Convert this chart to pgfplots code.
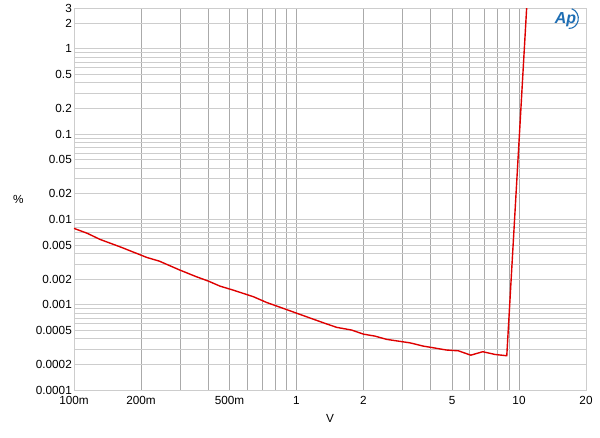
\documentclass[border=0pt]{standalone}
\usepackage{fontspec}
\setmainfont{Liberation Sans}
\usepackage{pgfplots}
\pgfplotsset{compat=1.18}
\definecolor{apred}{RGB}{222,0,0}
\definecolor{apblue}{RGB}{30,110,180}
\definecolor{gridv}{RGB}{170,170,170}
\definecolor{gridh}{RGB}{205,205,205}
\begin{document}
\begin{tikzpicture}
\useasboundingbox (-74bp,-48bp) rectangle (526bp,390bp);
\begin{axis}[
  at={(0,0)}, anchor=south west,
  scale only axis, width=512bp, height=382bp,
  xmode=log, ymode=log,
  xmin=0.1, xmax=20, ymin=0.0001, ymax=3,
  /pgf/number format/assume math mode=true,
  font=\fontsize{11.8}{13}\selectfont,
  xtick={0.1,0.2,0.5,1,2,5,10,20},
  xticklabels={100m,200m,500m,1,2,5,10,20},
  ytick={0.0001,0.0002,0.0005,0.001,0.002,0.005,0.01,0.02,0.05,0.1,0.2,0.5,1,2,3},
  yticklabels={0.0001,0.0002,0.0005,0.001,0.002,0.005,0.01,0.02,0.05,0.1,0.2,0.5,1,2,3},
  minor xtick={0.3,0.4,0.6,0.7,0.8,0.9,3,4,6,7,8,9},
  minor ytick={0.0003,0.0004,0.0006,0.0007,0.0008,0.0009,0.003,0.004,0.006,0.007,0.008,0.009,0.03,0.04,0.06,0.07,0.08,0.09,0.3,0.4,0.6,0.7,0.8,0.9},
  xmajorgrids, xminorgrids, ymajorgrids, yminorgrids,
  x grid style={gridv, line width=0.6pt},
  y grid style={gridh, line width=0.8pt},
  major tick length=0pt, minor tick length=0pt,
  axis line style={gridh, line width=0.8pt},
  xticklabel style={inner sep=1pt, yshift=-5bp},
  yticklabel style={inner sep=1pt, xshift=-1bp},
  xlabel={V}, ylabel={\%},
  xlabel style={at={(axis description cs:0.5,0)}, anchor=center, yshift=-28bp},
  ylabel style={rotate=-90, at={(axis description cs:0,0.5)}, anchor=center, xshift=-55.7bp},
]
\addplot[apred, line width=1.4pt, line join=round] coordinates {
(0.1,0.00784)
(0.1148,0.00686)
(0.1309,0.00582)
(0.1609,0.00477)
(0.1913,0.00399)
(0.2122,0.00358)
(0.2417,0.00324)
(0.2995,0.00254)
(0.356,0.00212)
(0.4016,0.00189)
(0.453,0.00165)
(0.520,0.00148)
(0.640,0.00124)
(0.735,0.00106)
(0.873,0.000904)
(1.037,0.000769)
(1.343,0.000604)
(1.517,0.000542)
(1.771,0.000504)
(1.996,0.000452)
(2.253,0.000428)
(2.543,0.000392)
(3.236,0.000357)
(3.713,0.000327)
(4.73,0.000294)
(5.34,0.000288)
(6.07,0.000256)
(6.87,0.000281)
(7.80,0.000261)
(8.81,0.000252)
(10.83,3.1)
};
\node[apblue, font=\fontsize{16}{16}\selectfont\bfseries\itshape, inner sep=0pt] at (rel axis cs:0.960,0.969) {Ap};
\draw[apblue, line width=1.1pt] (rel axis cs:0.972,0.998) arc[start angle=75, end angle=-95, x radius=9bp, y radius=10bp];
\end{axis}
\end{tikzpicture}
\end{document}
